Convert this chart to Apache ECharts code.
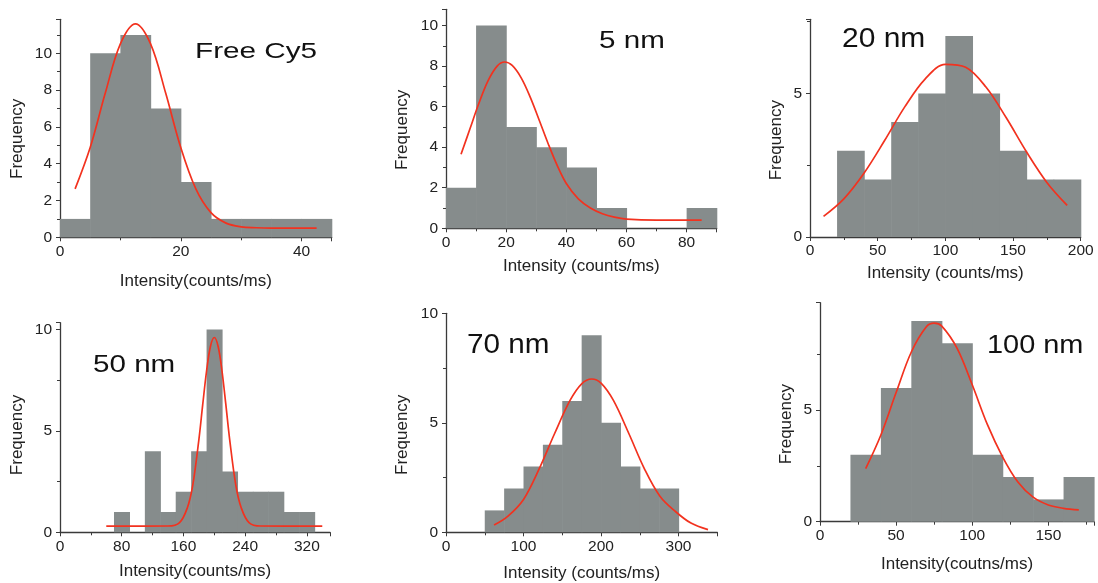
<!DOCTYPE html>
<html>
<head>
<meta charset="utf-8">
<script src="https://cdn.jsdelivr.net/npm/echarts@6/dist/echarts.min.js"></script>
<style>
html,body{margin:0;padding:0;background:#fff;}
#chart{width:1098px;height:583px;}
</style>
</head>
<body>
<div id="chart"></div>
<script>
// ---------------- DATA ----------------
const yName = 'Frequency';

// Panel 1: Free Cy5
const p1Label = 'Free Cy5';
const p1XName = 'Intensity(counts/ms)';
const p1Edges = [0, 5, 10, 15, 20, 25, 30, 35, 40, 45];
const p1Counts = [1, 10, 11, 7, 3, 1, 1, 1, 1];
const p1FitX = [2.5, 5, 7.5, 10, 12.5, 15, 17.5, 20, 22.5, 25, 27.5, 30, 32.5, 35, 42.5];
const p1FitY = [2.63, 4.88, 7.84, 10.51, 11.6, 10.51, 7.84, 4.88, 2.63, 1.34, 0.77, 0.57, 0.52, 0.5, 0.5];

// Panel 2: 5 nm
const p2Label = '5 nm';
const p2XName = 'Intensity (counts/ms)';
const p2Edges = [0, 10, 20, 30, 40, 50, 60, 70, 80, 90];
const p2Counts = [2, 10, 5, 4, 3, 1, 0, 0, 1];
const p2FitX = [5, 8, 11, 14, 17, 19.5, 22, 25, 28, 31, 34, 37, 40, 44, 48, 52, 56, 60, 70, 85];
const p2FitY = [3.65, 4.92, 6.19, 7.28, 8.0, 8.2, 8.03, 7.42, 6.47, 5.33, 4.16, 3.09, 2.21, 1.45, 1.0, 0.72, 0.55, 0.45, 0.4, 0.4];

// Panel 3: 20 nm
const p3Label = '20 nm';
const p3XName = 'Intensity (counts/ms)';
const p3Edges = [20, 40, 60, 80, 100, 120, 140, 160, 180, 200];
const p3Counts = [3, 2, 4, 5, 7, 5, 3, 2, 2];
const p3FitX = [10, 25, 40, 55, 70, 85, 100, 115, 130, 145, 160, 175, 190];
const p3FitY = [0.72, 1.33, 2.23, 3.35, 4.53, 5.5, 6.01, 5.91, 5.22, 4.15, 2.96, 1.9, 1.1];

// Panel 4: 50 nm
const p4Label = '50 nm';
const p4XName = 'Intensity(counts/ms)';
const p4Edges = [70, 90, 110, 130, 150, 170, 190, 210, 230, 250, 270, 290, 310, 330];
const p4Counts = [1, 0, 4, 1, 2, 4, 10, 3, 2, 2, 2, 1, 1];
const p4FitX = [60, 140, 155, 165, 172, 180, 185, 190, 195, 200, 205, 210, 215, 220, 228, 235, 245, 260, 340];
const p4FitY = [0.3, 0.31, 0.48, 1.2, 2.3, 4.56, 6.29, 7.95, 9.16, 9.6, 9.16, 7.95, 6.29, 4.56, 2.3, 1.2, 0.48, 0.31, 0.3];

// Panel 5: 70 nm
const p5Label = '70 nm';
const p5XName = 'Intensity (counts/ms)';
const p5Edges = [50, 75, 100, 125, 150, 175, 200, 225, 250, 275, 300];
const p5Counts = [1, 2, 3, 4, 6, 9, 5, 3, 2, 2];
const p5FitX = [62, 80, 100, 120, 140, 160, 175, 188, 200, 216, 236, 256, 276, 296, 316, 338];
const p5FitY = [0.33, 0.74, 1.5, 2.88, 4.5, 6.02, 6.78, 7.0, 6.81, 6.02, 4.5, 2.9, 1.65, 0.95, 0.42, 0.12];

// Panel 6: 100 nm
const p6Label = '100 nm';
const p6XName = 'Intensity(coutns/ms)';
const p6Edges = [20, 40, 60, 80, 100, 120, 140, 160, 180];
const p6Counts = [3, 6, 9, 8, 3, 2, 1, 2];
const p6FitX = [30, 40, 50, 60, 70, 75, 80, 90, 100, 110, 120, 130, 140, 150, 160, 170];
const p6FitY = [2.38, 3.89, 5.79, 7.61, 8.75, 8.9, 8.77, 7.78, 6.14, 4.35, 2.9, 1.78, 1.1, 0.75, 0.6, 0.53];

// axis ranges / tick steps
const xMaxes = [45, 90, 200, 350, 350, 180];
const xSteps = [20, 20, 50, 80, 100, 50];
const yMaxes = [11.85, 10.8, 7.58, 10.33, 10, 9.82];
const ySteps = [2, 2, 5, 5, 5, 5];

// ---------------- LAYOUT / STYLE ----------------
const panels = [
  {edges: p1Edges, counts: p1Counts, fx: p1FitX, fy: p1FitY, label: p1Label, xName: p1XName},
  {edges: p2Edges, counts: p2Counts, fx: p2FitX, fy: p2FitY, label: p2Label, xName: p2XName},
  {edges: p3Edges, counts: p3Counts, fx: p3FitX, fy: p3FitY, label: p3Label, xName: p3XName},
  {edges: p4Edges, counts: p4Counts, fx: p4FitX, fy: p4FitY, label: p4Label, xName: p4XName},
  {edges: p5Edges, counts: p5Counts, fx: p5FitX, fy: p5FitY, label: p5Label, xName: p5XName},
  {edges: p6Edges, counts: p6Counts, fx: p6FitX, fy: p6FitY, label: p6Label, xName: p6XName}
];
const grids = [
  {left: 60,  top: 19.3,  width: 271.7, height: 218},
  {left: 446, top: 9.3,   width: 270.7, height: 219},
  {left: 810, top: 19.3,  width: 270.7, height: 217.7},
  {left: 60,  top: 322.7, width: 270,   height: 209.6},
  {left: 446, top: 313.3, width: 271.3, height: 219},
  {left: 820, top: 302.7, width: 274,   height: 219}
];
const xNameGaps = [36, 30, 28, 31, 33, 34];
const yNameGaps = [34, 35, 25, 34, 35, 25];
const yNameShift = [21, 22, 24, 15, 24, 24];
const xShowMax = [false, false, true, false, false, false];
const yShowMax = [false, false, false, false, true, false];
// annotation text placement
const notes = [
  {x: 195, y: 52, size: 22, sx: 1.35},
  {x: 599, y: 42, size: 23.3, sx: 1.27},
  {x: 842, y: 39, size: 28, sx: 1.07},
  {x: 93,  y: 366, size: 23.3, sx: 1.27},
  {x: 467, y: 345, size: 28, sx: 1.06},
  {x: 987, y: 346, size: 25.6, sx: 1.13}
];

const FONT = '"Liberation Sans", Arial, Helvetica, sans-serif';
const AXIS_COLOR = '#3a3a3a';
const TEXT_COLOR = '#222';
const BAR_COLOR = '#868c8c';
const FIT_COLOR = '#f2321f';

const option = {
  backgroundColor: '#fff',
  animation: false,
  grid: [], xAxis: [], yAxis: [], series: [], graphic: []
};

panels.forEach((p, i) => {
  option.grid.push(Object.assign({outerBoundsMode: 'none', containLabel: false}, grids[i]));
  option.xAxis.push({
    type: 'value', gridIndex: i, min: 0, max: xMaxes[i], interval: xSteps[i],
    name: p.xName, nameLocation: 'middle', nameGap: xNameGaps[i],
    nameTextStyle: {fontFamily: FONT, fontSize: 17, color: TEXT_COLOR},
    axisLine: {show: true, onZero: false, lineStyle: {color: AXIS_COLOR, width: 1.3}},
    axisTick: {show: true, length: 4, lineStyle: {color: AXIS_COLOR, width: 1}},
    minorTick: {show: true, splitNumber: 2, length: 3, lineStyle: {color: AXIS_COLOR, width: 1}},
    axisLabel: {fontFamily: FONT, fontSize: 15.5, color: TEXT_COLOR, margin: 6,
                showMaxLabel: xShowMax[i], showMinLabel: true},
    splitLine: {show: false}
  });
  option.yAxis.push({
    type: 'value', gridIndex: i, min: 0, max: yMaxes[i], interval: ySteps[i],
    name: yName, nameLocation: 'middle', nameGap: yNameGaps[i],
    nameTextStyle: {fontFamily: FONT, fontSize: 17, color: TEXT_COLOR, padding: [0, yNameShift[i], 0, 0]},
    axisLine: {show: true, onZero: false, lineStyle: {color: AXIS_COLOR, width: 1.3}},
    axisTick: {show: true, length: 4, lineStyle: {color: AXIS_COLOR, width: 1}},
    minorTick: {show: true, splitNumber: 2, length: 3, lineStyle: {color: AXIS_COLOR, width: 1}},
    axisLabel: {fontFamily: FONT, fontSize: 15.5, color: TEXT_COLOR, margin: 8,
                showMaxLabel: yShowMax[i], showMinLabel: true},
    splitLine: {show: false}
  });
  const bins = p.counts.map((c, k) => [p.edges[k], p.edges[k + 1], c]);
  option.series.push({
    type: 'custom', xAxisIndex: i, yAxisIndex: i, z: 1,
    data: bins,
    encode: {x: [0, 1], y: 2},
    renderItem: function (params, api) {
      const c = api.value(2);
      if (!c) return null;
      const a = api.coord([api.value(0), c]);
      const b = api.coord([api.value(1), 0]);
      return {
        type: 'rect',
        shape: {x: a[0], y: a[1], width: b[0] - a[0] + 0.6, height: b[1] - a[1]},
        style: {fill: BAR_COLOR}
      };
    }
  });
  option.series.push({
    type: 'line', xAxisIndex: i, yAxisIndex: i, z: 3,
    data: p.fx.map((x, k) => [x, p.fy[k]]),
    smooth: 0.35, showSymbol: false, symbol: 'none',
    lineStyle: {color: FIT_COLOR, width: 1.7}
  });
  const n = notes[i];
  option.graphic.push({
    type: 'text', x: n.x, y: n.y, scaleX: n.sx, scaleY: 1, z: 10,
    style: {text: p.label, fontFamily: FONT, fontSize: n.size, fill: '#111',
            textAlign: 'left', textVerticalAlign: 'middle', align: 'left', verticalAlign: 'middle'}
  });
});

const chart = echarts.init(document.getElementById('chart'), null, {renderer: 'canvas'});
chart.setOption(option);
</script>
</body>
</html>
